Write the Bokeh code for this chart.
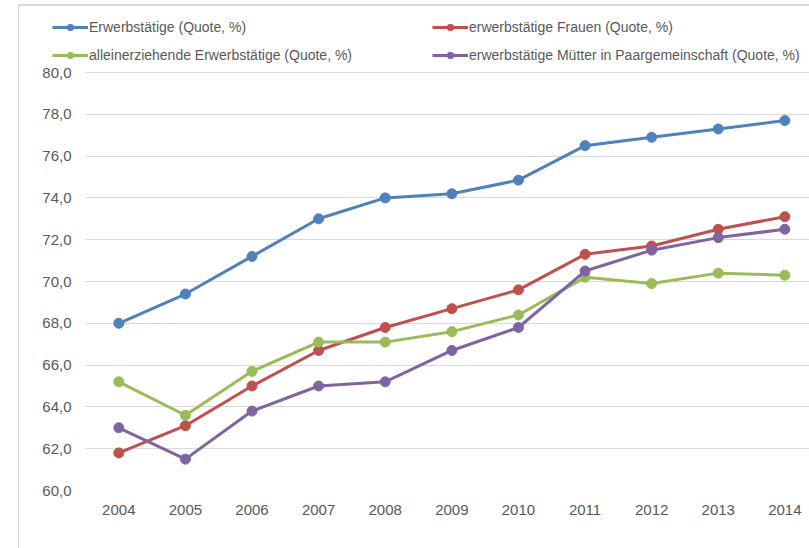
from bokeh.plotting import figure
from bokeh.layouts import column
from bokeh.models import Legend, LegendItem, CustomJSTickFormatter, FixedTicker, Range1d
from bokeh.embed import file_html
from bokeh.resources import INLINE

years = [2004, 2005, 2006, 2007, 2008, 2009, 2010, 2011, 2012, 2013, 2014]
erwerbstaetige = [68.0, 69.4, 71.2, 73.0, 74.0, 74.2, 74.85, 76.5, 76.9, 77.3, 77.7]
frauen = [61.8, 63.1, 65.0, 66.7, 67.8, 68.7, 69.6, 71.3, 71.7, 72.5, 73.1]
alleinerziehende = [65.2, 63.6, 65.7, 67.1, 67.1, 67.6, 68.4, 70.2, 69.9, 70.4, 70.3]
muetter = [63.0, 61.5, 63.8, 65.0, 65.2, 66.7, 67.8, 70.5, 71.5, 72.1, 72.5]

names = ["Erwerbstätige (Quote, %)",
         "erwerbstätige Frauen (Quote, %)",
         "alleinerziehende Erwerbstätige (Quote, %)",
         "erwerbstätige Mütter in Paargemeinschaft (Quote, %)"]
colors = ["#4F81BD", "#C0504D", "#9BBB59", "#8064A2"]
y_ticks = [60, 62, 64, 66, 68, 70, 72, 74, 76, 78, 80]

FONT = "Liberation Sans"
TXT = "#595959"

# ---- main chart ----
p = figure(width=809, height=484, output_backend="svg", toolbar_location=None,
           x_range=Range1d(2003.5, 2014.37), y_range=Range1d(60, 80.383),
           min_border_left=85, min_border_right=0, min_border_top=0, min_border_bottom=58)
p.outline_line_color = None
p.border_fill_alpha = 0
p.background_fill_alpha = 0
p.xgrid.grid_line_color = None
p.ygrid.grid_line_color = "#D9D9D9"
p.ygrid.grid_line_width = 1
p.yaxis.ticker = FixedTicker(ticks=y_ticks)
p.yaxis.formatter = CustomJSTickFormatter(code="return tick.toFixed(1).replace('.', ',');")
p.xaxis.ticker = FixedTicker(ticks=years)
for ax in (p.xaxis[0], p.yaxis[0]):
    ax.axis_line_color = None
    ax.major_tick_line_color = None
    ax.minor_tick_line_color = None
    ax.major_label_text_color = TXT
    ax.major_label_text_font = FONT
    ax.major_label_text_font_size = "15px"
p.yaxis.major_label_standoff = 8
p.xaxis.major_label_standoff = 8

series = [erwerbstaetige, frauen, alleinerziehende, muetter]
for vals, c in zip(series, colors):
    p.line(years, vals, line_color=c, line_width=3)
    p.scatter(years, vals, size=10, fill_color=c, line_color=c)

# ---- legend strip ----
lf = figure(width=809, height=64, output_backend="svg", toolbar_location=None,
            x_range=Range1d(0, 1), y_range=Range1d(0, 1),
            x_axis_location=None, y_axis_location=None,
            min_border=0, min_border_left=0, min_border_right=0,
            min_border_top=0, min_border_bottom=0)
lf.grid.visible = False
lf.outline_line_color = None
lf.border_fill_alpha = 0
lf.background_fill_alpha = 0
for fig in (lf, p):
    if "frame_align" in fig.properties():
        fig.frame_align = False

items = []
for name, c in zip(names, colors):
    l = lf.line([-5, -4], [-5, -4], line_color=c, line_width=3)
    s = lf.scatter([-5], [-5], size=10, fill_color=c, line_color=c)
    items.append(LegendItem(label=name, renderers=[l, s]))

def mk_legend(its, x):
    return Legend(items=its, location=(x, 1), orientation="vertical",
                  background_fill_alpha=0, border_line_color=None,
                  label_text_font=FONT, label_text_font_size="14px",
                  label_text_color=TXT, glyph_width=36, glyph_height=16,
                  label_standoff=1, spacing=12, padding=0, margin=0,
                  label_height=16)

lf.add_layout(mk_legend([items[0], items[2]], 52))
lf.add_layout(mk_legend([items[1], items[3]], 432))

layout = column(lf, p, spacing=0, styles={
    "background-color": "white",
    "background-image": "linear-gradient(#D9D9D9, #D9D9D9), linear-gradient(#D9D9D9, #D9D9D9)",
    "background-size": "1px 543px, 791px 2px",
    "background-position": "18px 5px, 18px 4px",
    "background-repeat": "no-repeat",
})
open("out.html", "w").write(file_html(layout, INLINE))
